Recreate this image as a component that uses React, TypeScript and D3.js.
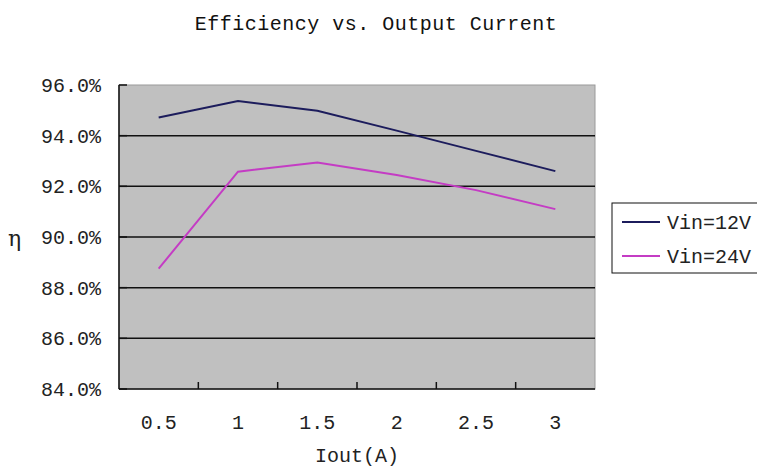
import React from "react";
import * as d3 from "d3";

const categories = ["0.5", "1", "1.5", "2", "2.5", "3"];
const vin12 = [94.72, 95.37, 94.98, 94.2, 93.4, 92.6];
const vin24 = [88.75, 92.58, 92.94, 92.45, 91.85, 91.1];
const yTicks = [84, 86, 88, 90, 92, 94, 96];
const seriesNames = ["Vin=12V", "Vin=24V"];
const seriesColors = ["#1c1c5c", "#c43cc4"];

const W = 757;
const H = 468;
const plot = { left: 119, right: 595, top: 85, bottom: 389 };
const font = "'Liberation Mono', 'DejaVu Sans Mono', monospace";

export default function App() {
  const x = d3.scaleBand().domain(categories).range([plot.left, plot.right]);
  const y = d3.scaleLinear().domain([84, 96]).range([plot.bottom, plot.top]);
  const line = d3
    .line<number>()
    .x((_, i) => (x(categories[i]) as number) + x.bandwidth() / 2)
    .y((d) => y(d));
  const series = [vin12, vin24];

  return (
    <svg
      width={W}
      height={H}
      style={{ position: "absolute", left: 0, top: 0, background: "#fff" }}
      fontFamily={font}
    >
      <rect x={0} y={0} width={W} height={H} fill="#fff" />
      <text x={376} y={30} textAnchor="middle" fontSize={20} letterSpacing={0.5} fill="#111">
        Efficiency vs. Output Current
      </text>
      <rect
        x={plot.left}
        y={plot.top}
        width={plot.right - plot.left}
        height={plot.bottom - plot.top}
        fill="#c0c0c0"
        stroke="#9a9a9a"
        strokeWidth={1}
      />
      {yTicks.map((t) => (
        <g key={t}>
          {t !== 96 && t !== 84 && (
            <line x1={plot.left} x2={plot.right} y1={y(t)} y2={y(t)} stroke="#111" strokeWidth={1.5} />
          )}
          <line x1={plot.left} x2={plot.left + 8} y1={y(t)} y2={y(t)} stroke="#111" strokeWidth={1.5} />
          <text x={101} y={y(t) + 7} textAnchor="end" fontSize={20} fill="#222">
            {t.toFixed(1) + "%"}
          </text>
        </g>
      ))}
      <line x1={plot.left} x2={plot.left} y1={plot.top} y2={plot.bottom} stroke="#111" strokeWidth={1.5} />
      <line x1={plot.left} x2={plot.right} y1={plot.bottom} y2={plot.bottom} stroke="#111" strokeWidth={1.5} />
      {categories.slice(1).map((c) => (
        <line
          key={c}
          x1={x(c)}
          x2={x(c)}
          y1={plot.bottom}
          y2={plot.bottom - 7}
          stroke="#111"
          strokeWidth={1.5}
        />
      ))}
      {categories.map((c) => (
        <text
          key={c}
          x={(x(c) as number) + x.bandwidth() / 2}
          y={429}
          textAnchor="middle"
          fontSize={20}
          fill="#222"
        >
          {c}
        </text>
      ))}
      <text x={357} y={462} textAnchor="middle" fontSize={20} fill="#222">
        Iout(A)
      </text>
      <text x={8} y={246} fontSize={22} fill="#222" fontFamily="'DejaVu Serif', serif">
        η
      </text>
      {series.map((s, i) => (
        <path key={i} d={line(s) || ""} fill="none" stroke={seriesColors[i]} strokeWidth={2} />
      ))}
      <rect x={612} y={203} width={160} height={70} fill="#fff" stroke="#111" strokeWidth={1} />
      {seriesNames.map((n, i) => (
        <g key={n}>
          <line
            x1={622}
            x2={660}
            y1={222 + i * 34}
            y2={222 + i * 34}
            stroke={seriesColors[i]}
            strokeWidth={2}
          />
          <text x={667} y={229 + i * 34} fontSize={20} fill="#222">
            {n}
          </text>
        </g>
      ))}
    </svg>
  );
}
